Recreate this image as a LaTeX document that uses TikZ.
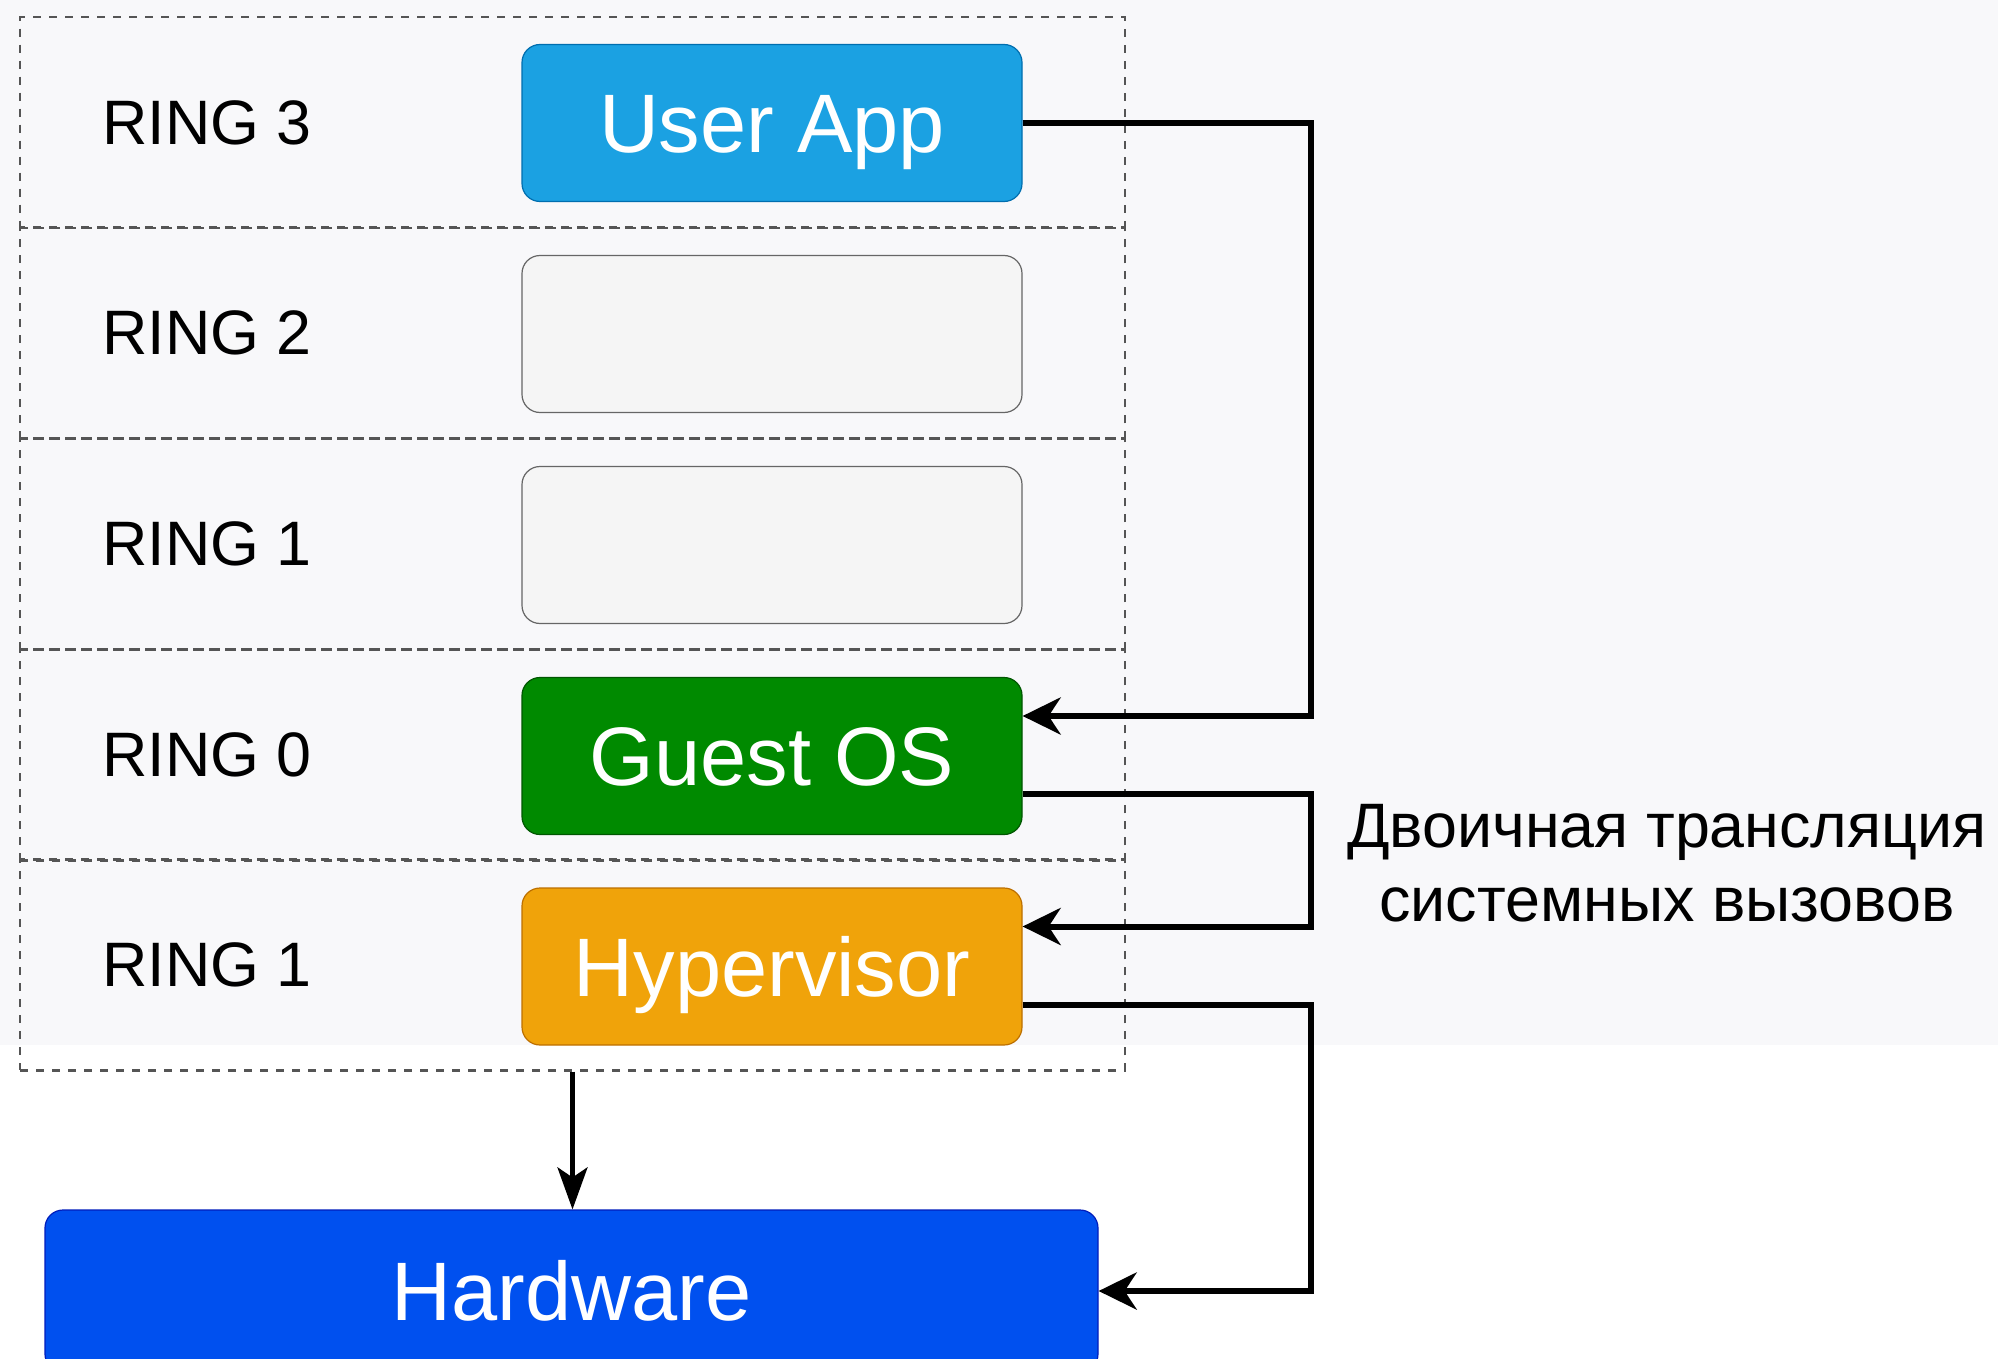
\documentclass[tikz,border=0pt]{standalone}
\usepackage{fontspec}
\setmainfont{Liberation Sans}
\usetikzlibrary{arrows.meta}

\definecolor{bgGray}{HTML}{F8F8FA}
\definecolor{dashGray}{HTML}{555555}
\definecolor{userFill}{HTML}{1BA1E2}
\definecolor{userLine}{HTML}{006EAF}
\definecolor{ringFill}{HTML}{F5F5F5}
\definecolor{ringLine}{HTML}{666666}
\definecolor{guestFill}{HTML}{008A00}
\definecolor{guestLine}{HTML}{005700}
\definecolor{hypFill}{HTML}{F0A30A}
\definecolor{hypLine}{HTML}{BD7000}
\definecolor{hardFill}{HTML}{0050EF}
\definecolor{hardLine}{HTML}{001DBC}

\begin{document}
\begin{tikzpicture}
[x=0.5pt,y=-0.5pt,
  rowDecorate/.style={shape=rectangle,draw=dashGray,line width=1.3pt,dash pattern=on 4pt off 4pt,
    minimum width=552.5pt,minimum height=105.3pt,inner sep=0pt},
  labelDecorate/.style={anchor=west,inner sep=0pt,font=\fontsize{31.4}{36}\selectfont},
  boxDecorate/.style={shape=rectangle,rounded corners=9pt,line width=0.6pt,
    minimum width=250pt,minimum height=78.5pt,inner sep=0pt,text=white,
    text height=29.5pt,text depth=0pt,font=\fontsize{41.5}{47}\selectfont},
  lineDecorate/.style={-{Stealth[length=19pt,width=18.5pt,inset=6pt]},line width=3pt},
  downDecorate/.style={-{Stealth[length=21pt,width=15pt,inset=5pt]},line width=2.2pt}]
\clip (0,0) rectangle (1998,1359);
\fill[white] (0,0) rectangle (1998,1359);
\fill[bgGray] (0,0) rectangle (1998,1045);
%% privilege rings
\foreach \rowname/\ringtext/\y in {rowA/RING 3/122.5, rowB/RING 2/333, rowC/RING 1/544, rowD/RING 0/755, rowE/RING 1/965}
{
  \node (\rowname) at (572.5,\y) [rowDecorate] {};
  \node (\rowname Label) at (102,\y) [labelDecorate] {\ringtext};
}
%% boxes inside the rings
\foreach \boxname/\boxtext/\y/\fillcol/\linecol in {userApp/User App/123/userFill/userLine,
  ringTwoBox//334/ringFill/ringLine, ringOneBox//545/ringFill/ringLine,
  guestOS/Guest OS/756/guestFill/guestLine, hypervisor/Hypervisor/966.5/hypFill/hypLine}
{
  \node (\boxname) at (772,\y) [boxDecorate,fill=\fillcol,draw=\linecol] {\boxtext};
}
\node (hardware) at (571.5,1291) [boxDecorate,fill=hardFill,draw=hardLine,minimum width=526.5pt,minimum height=81pt] {Hardware};
%% note
\node (transNote) at (1667,863) [align=center,inner sep=0pt,font=\fontsize{31.4}{37}\selectfont]
  {Двоичная трансляция\\системных вызовов};
%% edges or lines
\draw[lineDecorate] (userApp.east) -- ++(288,0) |- ([yshift=20pt]guestOS.east);
\draw[lineDecorate] ([yshift=-19pt]guestOS.east) -- ++(288,0) |- ([yshift=20pt]hypervisor.east);
\draw[lineDecorate] ([yshift=-19pt]hypervisor.east) -- ++(288,0) |- (hardware.east);
\draw[downDecorate] (rowE.south) -- (rowE.south |- hardware.north);
\end{tikzpicture}
\end{document}
